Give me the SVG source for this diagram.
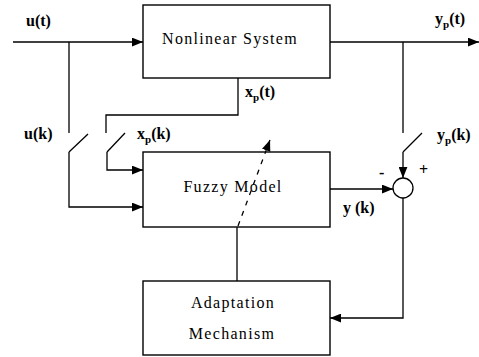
<svg xmlns="http://www.w3.org/2000/svg" width="479" height="357" viewBox="0 0 479 357">
<defs>
<style>
.box{fill:#fff;stroke:#000;stroke-width:1.4}
.ln{fill:none;stroke:#000;stroke-width:1.3}
.t{font-family:"Liberation Serif",serif;font-size:16px;letter-spacing:1.3px;text-anchor:middle;fill:#000}
.l{font-family:"Liberation Serif",serif;font-size:16px;font-weight:bold;fill:#000}
.s{font-size:11px}
</style>
<marker id="ah" viewBox="0 0 10 8" refX="10" refY="4" markerWidth="11" markerHeight="9" markerUnits="userSpaceOnUse" orient="auto">
<path d="M0,0 L10,4 L0,8 Z" fill="#000"/>
</marker>
</defs>
<rect width="479" height="357" fill="#fff"/>
<g id="connectors">
<path class="ln" d="M13,42 H143" marker-end="url(#ah)"/>
<path class="ln" d="M330,42 H479" marker-end="url(#ah)"/>
<path class="ln" d="M69,42 V133"/>
<path class="ln" d="M69,152 L88,134"/>
<path class="ln" d="M69,152 V207 H143" marker-end="url(#ah)"/>
<path class="ln" d="M238,78 V115 H106 V133"/>
<path class="ln" d="M107,152 L125,133"/>
<path class="ln" d="M107,152 V170 H143" marker-end="url(#ah)"/>
<path class="ln" d="M330,189 H393" marker-end="url(#ah)"/>
<path class="ln" d="M403,42 V133"/>
<path class="ln" d="M403,152 L422,133"/>
<path class="ln" d="M403,152 V178" marker-end="url(#ah)"/>
<path class="ln" d="M403,198 V318 H330" marker-end="url(#ah)"/>
<path class="ln" d="M237,227 V281"/>
<path class="ln" d="M238,226 L270,140" stroke-dasharray="5,6" marker-end="url(#ah)"/>
</g>
<g id="nonlinear-system">
<rect class="box" x="143" y="5" width="187" height="73"/>
<text class="t" x="230" y="44">Nonlinear System</text>
</g>
<g id="fuzzy-model">
<rect class="box" x="143" y="152" width="187" height="75" style="fill:none"/>
<text class="t" x="233" y="192">Fuzzy Model</text>
</g>
<g id="adaptation-mechanism">
<rect class="box" x="143" y="281" width="187" height="74"/>
<text class="t" x="233" y="308">Adaptation</text>
<text class="t" x="232" y="339">Mechanism</text>
</g>
<g id="summer">
<circle cx="403" cy="188" r="10" fill="#fff" stroke="#000" stroke-width="1.3"/>
</g>
<g id="labels">
<text class="l" x="26" y="26">u(t)</text>
<text class="l" x="435" y="24">y<tspan class="s" dy="4">p</tspan><tspan dy="-4">(t)</tspan></text>
<text class="l" x="245" y="97">x<tspan class="s" dy="4">p</tspan><tspan dy="-4">(t)</tspan></text>
<text class="l" x="24" y="139">u(k)</text>
<text class="l" x="137" y="139">x<tspan class="s" dy="4">p</tspan><tspan dy="-4">(k)</tspan></text>
<text class="l" x="437" y="140">y<tspan class="s" dy="4">p</tspan><tspan dy="-4">(k)</tspan></text>
<text class="l" x="343" y="213">y (k)</text>
<text class="l" x="379" y="178">-</text>
<text class="l" x="419" y="175">+</text>
</g>
</svg>
